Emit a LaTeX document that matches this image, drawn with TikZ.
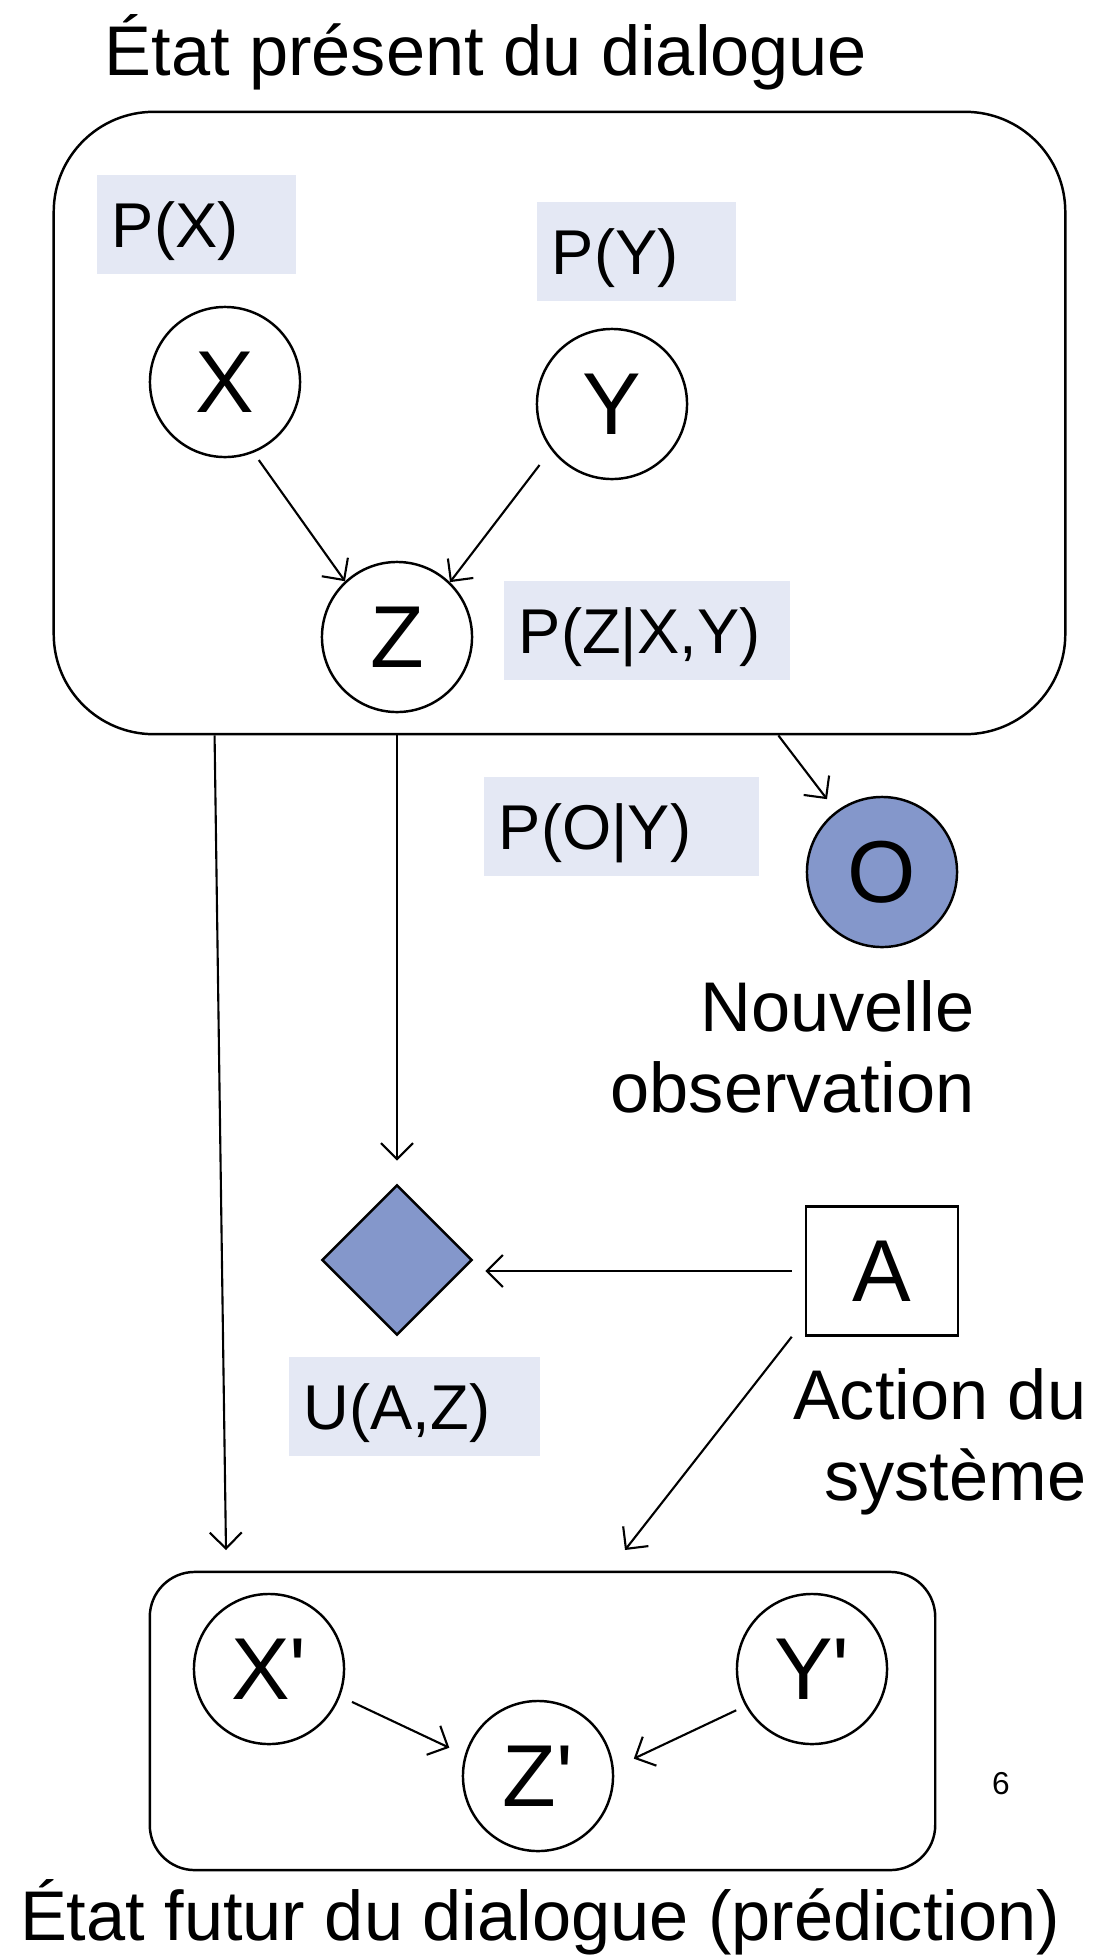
\documentclass[tikz,border=0pt]{standalone}
\usepackage{fontspec}
\setmainfont{Liberation Sans}[Ligatures=TeXOff]
\usetikzlibrary{arrows.meta}
\usetikzlibrary{shapes.geometric}

\definecolor{nodeblue}{RGB}{132,151,203}
\definecolor{probbg}{RGB}{228,232,244}

\begin{document}
\begin{tikzpicture}[x=0.01cm, y=-0.01cm, >={Straight Barb[length=1.6mm,width=3.2mm]},
  var/.style={circle, draw, line width=0.7pt, minimum size=1.5cm, inner sep=0pt,
    font=\fontsize{25}{30}\selectfont},
  prob/.style={fill=probbg, minimum height=0.99cm, inner xsep=0.15cm, inner ysep=0pt,
    text width=#1, text height=0.5cm, text depth=0.05cm, align=left,
    font=\fontsize{18}{21}\selectfont},
  state/.style={draw, line width=0.7pt},
  caption/.style={inner sep=0pt, font=\fontsize{20}{23}\selectfont},
  link/.style={->, line width=0.6pt}]
\useasboundingbox (0,0) rectangle (1100,1960);

% present state
\node[caption, anchor=base] (tPresent) at (486,75) {État présent du dialogue};
\node[state, rounded corners=1cm, minimum width=10.11cm, minimum height=6.22cm] (present) at (559.5,423) {};
\node[prob=1.69cm] (pX) at (196.5,224.5) {P(X)};
\node[prob=1.69cm] (pY) at (636.5,251.5) {P(Y)};
\node[prob=2.56cm] (pZ) at (647,630.5) {P(Z|X,Y)};
\node[var] (X) at (225,382) {X};
\node[var] (Y) at (612,404) {Y};
\node[var] (Z) at (397,637) {Z};
\draw[link, shorten <=0.09cm] (X.292) -- (Z.133);
\draw[link, shorten <=0.19cm] (Y.217) -- (Z.46);

% observation, utility and action
\node[prob=2.45cm] (pO) at (621.5,826.5) {P(O|Y)};
\node[var, fill=nodeblue] (O) at (882,872) {O};
\node[caption, anchor=base east, align=right] (obs) at (975,1112) {Nouvelle\\observation};
\node[diamond, draw, fill=nodeblue, line width=0.7pt, minimum width=1.5cm, minimum height=1.5cm, inner sep=0pt] (U) at (397,1260) {};
\node[prob=2.21cm] (uAZ) at (414.5,1406.5) {U(A,Z)};
\node[state, minimum width=1.52cm, minimum height=1.29cm, inner sep=0pt, font=\fontsize{25}{30}\selectfont] (A) at (882,1271) {A};
\node[caption, anchor=base east, align=right] (act) at (1087,1500) {Action du\\système};

% future state
\node[state, rounded corners=0.45cm, minimum width=7.85cm, minimum height=2.98cm] (future) at (542.5,1721) {};
\node[var] (Xf) at (269,1669) {X'};
\node[var] (Yf) at (812,1669) {Y'};
\node[var] (Zf) at (538,1776) {Z'};
\draw[link, shorten <=0.13cm, shorten >=0.17cm] (Xf.339) -- (Zf.164);
\draw[link, shorten <=0.10cm, shorten >=0.22cm] (Yf.209) -- (Zf.6);
\node[caption, anchor=base] (tFuture) at (540,1940) {État futur du dialogue (prédiction)};
\node[inner sep=0pt, font=\fontsize{9}{11}\selectfont] (pg) at (1001,1784) {6};

\coordinate (inX) at (226,1550);
\coordinate (inA) at (625,1550);
\draw[link] ([xshift=1.62cm]present.south west) -- (inX);
\draw[link, shorten >=0.23cm] (Z |- present.south) -- (Z |- U.north);
\draw[link, shorten >=0.15cm] ([xshift=-2.88cm]present.south east) -- (O.127);
\draw[link, shorten <=0.13cm, shorten >=0.12cm] (A.west) -- (A.west -| U.east);
\draw[link] ([xshift=-0.13cm]A.south west) -- (inA);
\end{tikzpicture}
\end{document}
